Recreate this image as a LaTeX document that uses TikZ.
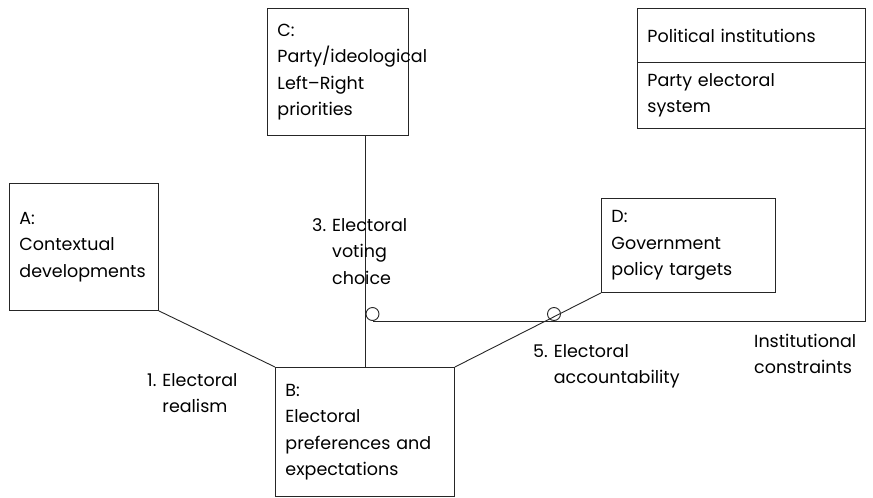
\documentclass[tikz,border=0pt]{standalone}
\usepackage{fontspec}
\setmainfont{Poppins}
\begin{document}
\begin{tikzpicture}[x=1pt,y=-1pt,
  every node/.style={font=\fontsize{17.5}{26.5}\selectfont},
  lin/.style={draw=black!85, line width=0.9pt},
  box/.style={lin, rectangle, align=left, inner xsep=10pt, inner ysep=0pt, anchor=north west},
  junction/.style={lin, circle, minimum size=13pt, inner sep=0pt},
  lbl/.style={anchor=base west, inner sep=0pt}]
\useasboundingbox (0,0) rectangle (873,498);

% boxes
\node[box, text width=129pt, minimum height=127pt] (A) at (9,183) {A:\\Contextual\\developments};
\node[box, text width=121pt, minimum height=127pt] (C) at (267,8) {C:\\Party/ideological\\Left--Right\\priorities};
\node[box, text width=159pt, minimum height=129pt] (B) at (275,367) {B:\\Electoral\\preferences and\\expectations};
\node[box, text width=154pt, minimum height=94pt] (D) at (601,198) {D:\\Government\\policy targets};
\node[box, text width=208pt, minimum height=54pt] (P1) at (637,8) {Political institutions};
\node[box, text width=208pt, minimum height=66pt] (P2) at (637,62) {Party electoral\\system};

% junction markers
\node[junction] (j1) at (372.5,314) {};
\node[junction] (j2) at (554,314) {};

% connectors
\draw[lin] (A.south east) -- (B.north west);
\draw[lin] (C.south -| j1.west) -- (B.north -| j1.west);
\draw[lin] (B.north east) -- (D.south west);
\draw[lin] (P2.south east) |- (j1.south);

% path labels
\node[lbl] (l1) at (147,386) {\begin{tabular}[t]{@{}l@{\hspace{6pt}}l@{}}1.&Electoral\\&realism\end{tabular}};
\node[lbl] (l3) at (312,231) {\begin{tabular}[t]{@{}l@{\hspace{6pt}}l@{}}3.&Electoral\\&voting\\&choice\end{tabular}};
\node[lbl] (l5) at (533,357) {\begin{tabular}[t]{@{}l@{\hspace{6pt}}l@{}}5.&Electoral\\&accountability\end{tabular}};
\node[lbl] (l6) at (754,347) {\begin{tabular}[t]{@{}l@{}}Institutional\\constraints\end{tabular}};
\end{tikzpicture}
\end{document}
